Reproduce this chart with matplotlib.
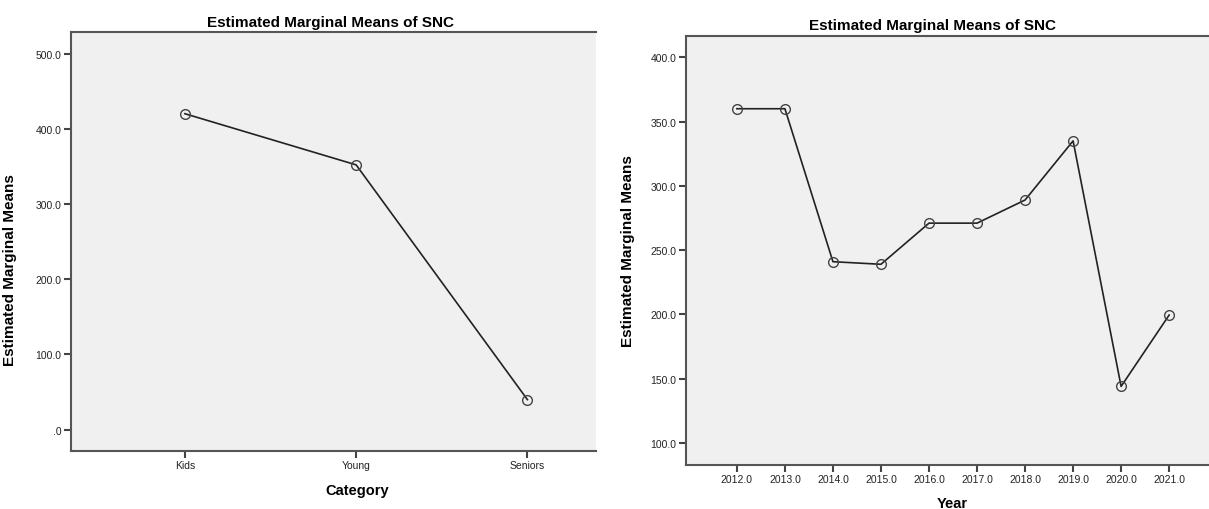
import matplotlib
matplotlib.use("Agg")
import matplotlib.pyplot as plt

# Estimated marginal means of SNC
categories = ["Kids", "Young", "Seniors"]
cat_means = [420, 352, 40]

years = [2012, 2013, 2014, 2015, 2016, 2017, 2018, 2019, 2020, 2021]
year_means = [360, 360, 241, 239, 271, 271, 289, 335, 144, 199.5]

left_yticks = [0, 100, 200, 300, 400, 500]
right_yticks = [100, 150, 200, 250, 300, 350, 400]

plt.rcParams['font.family'] = ['Liberation Sans', 'DejaVu Sans']

fig = plt.figure(figsize=(12.09, 5.10), dpi=100)
ax1 = fig.add_axes([0.0587, 0.1143, 0.4342, 0.821])
ax2 = fig.add_axes([0.5674, 0.0869, 0.4326, 0.8406])

def style(ax):
    ax.set_facecolor('#f0f0f0')
    for s in ['left', 'bottom', 'top']:
        ax.spines[s].set_color('#555555')
        ax.spines[s].set_linewidth(1.5)
    ax.spines['right'].set_visible(False)
    ax.tick_params(direction='out', length=5, width=1.5, color='#444444',
                   labelsize=7.5, labelcolor='#222222', pad=2)

# ---- panel 1: category
x1 = list(range(len(categories)))
ax1.plot(x1, cat_means, '-', color='#222222', linewidth=1.2,
         marker='o', markersize=7, markerfacecolor='none',
         markeredgecolor='#444444', markeredgewidth=1.0)
ax1.set_xticks(x1)
ax1.set_xticklabels(categories)
ax1.set_xlim(-0.665, 2.40)
ax1.set_yticks(left_yticks)
ax1.set_yticklabels(['.0'] + [f"{v:.1f}" for v in left_yticks[1:]])
ax1.set_ylim(-27.9, 528.6)
style(ax1)
ax1.text(0.495, 1.008, "Estimated Marginal Means of SNC", transform=ax1.transAxes,
         ha='center', va='bottom', fontsize=11, fontweight='bold')
ax1.set_ylabel("Estimated Marginal Means", fontsize=11, fontweight='bold')
ax1.yaxis.set_label_coords(-0.103, 0.434)
ax1.set_xlabel("Category", fontsize=10.5, fontweight='bold')
ax1.xaxis.set_label_coords(0.545, -0.077)

# ---- panel 2: year
ax2.plot(years, year_means, '-', color='#222222', linewidth=1.2,
         marker='o', markersize=7, markerfacecolor='none',
         markeredgecolor='#444444', markeredgewidth=1.0)
ax2.set_xticks(years)
ax2.set_xticklabels([f"{y:.1f}" for y in years])
ax2.set_xlim(2010.94, 2021.83)
ax2.set_yticks(right_yticks)
ax2.set_yticklabels([f"{v:.1f}" for v in right_yticks])
ax2.set_ylim(83.1, 416.6)
style(ax2)
ax2.text(0.472, 1.009, "Estimated Marginal Means of SNC", transform=ax2.transAxes,
         ha='center', va='bottom', fontsize=11, fontweight='bold')
ax2.set_ylabel("Estimated Marginal Means", fontsize=11, fontweight='bold')
ax2.yaxis.set_label_coords(-0.0975, 0.5)
ax2.set_xlabel("Year", fontsize=10.5, fontweight='bold')
ax2.xaxis.set_label_coords(0.509, -0.073)

fig.savefig("out.png", dpi=100)
